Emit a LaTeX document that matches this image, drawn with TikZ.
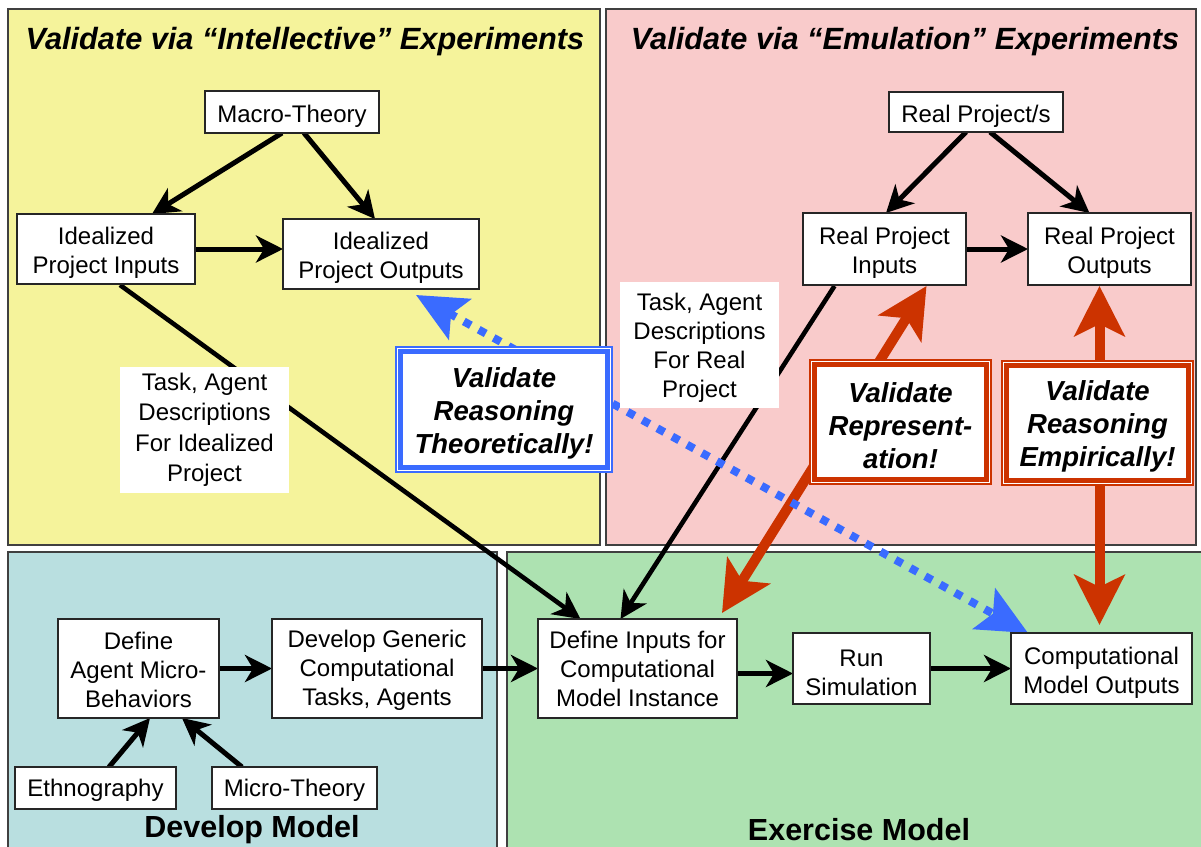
\documentclass[tikz,border=0pt]{standalone}
\usepackage{fontspec}
\setmainfont{Liberation Sans}
\usetikzlibrary{arrows.meta}
\definecolor{yel}{RGB}{245,243,155}
\definecolor{pnk}{RGB}{249,203,203}
\definecolor{tealp}{RGB}{185,223,224}
\definecolor{grn}{RGB}{173,226,177}
\definecolor{redA}{RGB}{204,51,0}
\definecolor{bluA}{RGB}{58,107,255}
\newcommand\tsp{\rule{0pt}{25pt}}
\newcommand\tss{\rule{0pt}{21pt}}
\newcommand\tsv{\rule{0pt}{27pt}}
\pgfdeclarelayer{bg}
\pgfdeclarelayer{mid}
\pgfsetlayers{bg,mid,main}
\tikzset{
  panel/.style={draw=black!75, line width=1.3},
  box/.style={draw=black!85, line width=1.2, fill=white, align=center, inner sep=0pt, outer sep=0pt, font=\fontsize{24}{29}\selectfont},
  desc/.style={fill=white, align=center, inner sep=0pt, outer sep=0pt, font=\fontsize{24}{30.5}\selectfont},
  valbox/.style={fill=white, line width=8, align=center, inner sep=0pt, outer sep=0pt, font=\bfseries\itshape\fontsize{27.5}{33}\selectfont},
  title/.style={font=\bfseries\itshape\fontsize{30.7}{36}\selectfont},
  ptitle/.style={font=\bfseries\fontsize{30.5}{36}\selectfont},
  blk/.style={line width=5, -{Stealth[length=27pt,width=27pt,inset=8pt]}},
  blkthin/.style={line width=4.6, -{Stealth[length=27pt,width=27pt,inset=8pt]}},
  redarr/.style={draw=redA, line width=10, {Stealth[length=50pt,width=50pt,inset=12pt]}-{Stealth[length=50pt,width=50pt,inset=12pt]}},
  bluarr/.style={draw=bluA, line width=8, dash pattern=on 8pt off 9pt, {Stealth[length=50pt,width=46pt,inset=10pt]}-{Stealth[length=50pt,width=46pt,inset=10pt]}}
}
\begin{document}
\begin{tikzpicture}[x=1pt,y=-1pt]
\useasboundingbox (0,0) rectangle (1201,846);
\clip (0,0) rectangle (1201,846);
\begin{pgfonlayer}{bg}
  \fill[white] (0,0) rectangle (1201,846);
  \draw[panel, fill=yel] (8,9) rectangle (600,545);
  \draw[panel, fill=pnk] (606,9) rectangle (1196,545);
  \draw[panel, fill=tealp] (8,552) rectangle (497,850);
  \draw[panel, fill=grn] (507,552) rectangle (1205,850);
\end{pgfonlayer}

% titles
\node[title] (t1) at (305,42) {Validate via “Intellective” Experiments};
\node[title] (t2) at (905,42) {Validate via “Emulation” Experiments};
\node[ptitle] (t3) at (252,830) {Develop Model};
\node[ptitle] (t4) at (859,830) {Exercise Model};

% boxes
\node[box, minimum width=174, minimum height=42] (mt) at (292,112) {\tsp Macro-Theory};
\node[box, minimum width=178, minimum height=70] (ii) at (106,249) {\tsp Idealized\\Project Inputs};
\node[box, minimum width=196, minimum height=70] (io) at (381,254) {\tsp Idealized\\Project Outputs};
\node[desc, minimum width=169, minimum height=126] (d1) at (204.5,430) {Task, Agent\\Descriptions\\For Idealized\\Project};

\node[box, minimum width=174, minimum height=40] (rp) at (976,112) {\tsp Real Project/s};
\node[box, minimum width=163, minimum height=72] (ri) at (884.5,249) {\tsp Real Project\\Inputs};
\node[box, minimum width=163, minimum height=72] (ro) at (1109.5,249) {\tsp Real Project\\Outputs};
\node[desc, minimum width=159, minimum height=126, font=\fontsize{24}{29}\selectfont] (d2) at (699.5,345) {\rule{0pt}{23pt}Task, Agent\\Descriptions\\For Real\\Project};

\node[box, minimum width=161, minimum height=99] (da) at (138.5,668.5) {\tss Define\\Agent Micro-\\Behaviors};
\node[box, minimum width=210, minimum height=99] (dg) at (377,668.5) {\tss Develop Generic\\Computational\\Tasks, Agents};
\node[box, minimum width=161, minimum height=42] (eth) at (95.5,788) {\tss Ethnography};
\node[box, minimum width=165, minimum height=42] (mth) at (294.5,788) {\tss Micro-Theory};

\node[box, minimum width=199, minimum height=99] (di) at (637.5,668.5) {Define Inputs for\\Computational\\Model Instance};
\node[box, minimum width=137, minimum height=71] (rs) at (861.5,668.5) {\tsp Run\\Simulation};
\node[box, minimum width=181, minimum height=71] (co) at (1101.5,668.5) {\tsp Computational\\Model Outputs};

% validate boxes
\node[valbox, draw=bluA, minimum width=210, minimum height=119] (vt) at (504,409.5) {\tsv Validate\\Reasoning\\Theoretically!};
\node[valbox, draw=redA, minimum width=175, minimum height=118] (vr) at (900.5,422) {\tsv Validate\\Represent-\\ation!};
\node[valbox, draw=redA, minimum width=185, minimum height=118] (ve) at (1097.5,422.5) {\tsv Validate\\Reasoning\\Empirically!};
\foreach \n in {vt,vr,ve}{
  \draw[white, line width=1] ([shift={(-1.5,-1.5)}]\n.north west) rectangle ([shift={(1.5,1.5)}]\n.south east);
}

\begin{pgfonlayer}{mid}
  % black connectors
  \draw[blk] ([shift={(-10,0)}]mt.south) -- ([shift={(46,0)}]ii.north);
  \draw[blk] ([shift={(12,0)}]mt.south) -- ([shift={(-6,0)}]io.north);
  \draw[blk] (ii.east) -- (ii.east -| io.west);
  \draw[blkthin] ([shift={(14,1)}]ii.south) -- ([shift={(-57,0)}]di.north);

  \draw[blk] ([shift={(-10,0)}]rp.south) -- ([shift={(1.5,0)}]ri.north);
  \draw[blk] ([shift={(14,0)}]rp.south) -- ([shift={(-20,0)}]ro.north);
  \draw[blk] (ri.east) -- (ro.west);
  \draw[blkthin] ([shift={(-50,1)}]ri.south) -- ([shift={(-17,0)}]di.north);

  \draw[blk] (da.east) -- (dg.west);
  \draw[blk] (dg.east) -- (di.west);
  \draw[blk] ([shift={(0,5)}]di.east) -- ([shift={(0,5)}]rs.west);
  \draw[blk] (rs.east) -- (co.west);
  \draw[blk] ([shift={(13.5,0)}]eth.north) -- ([shift={(11.5,0)}]da.south);
  \draw[blk] ([shift={(-52.5,0)}]mth.north) -- ([shift={(43.5,0)}]da.south);

  % validation arrows
  \draw[redarr] ([shift={(42,1)}]ri.south) -- ([shift={(-15,-6)}]di.north east);
  \draw[redarr] ([shift={(-10,1)}]ro.south) -- ([shift={(-2,-8)}]co.north);
  \draw[bluarr] ([shift={(35,6)}]io.south) -- ([shift={(17,0)}]co.north west);
\end{pgfonlayer}
\end{tikzpicture}
\end{document}
